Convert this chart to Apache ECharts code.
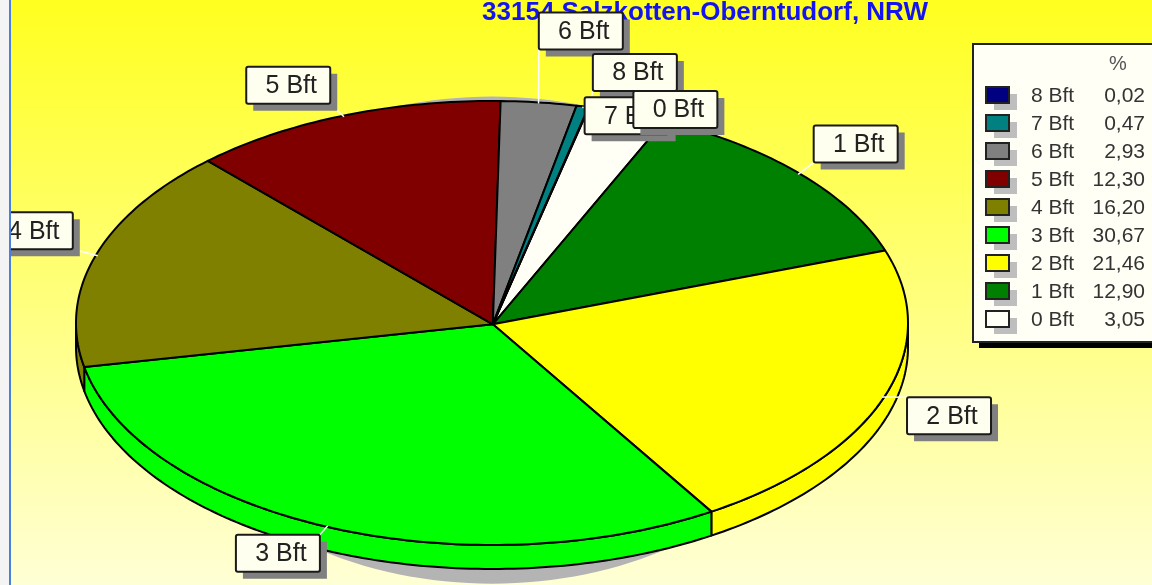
<!DOCTYPE html>
<html><head><meta charset="utf-8">
<script src="https://cdn.jsdelivr.net/npm/echarts@6/dist/echarts.min.js"></script>
<style>html,body{margin:0;padding:0;background:#fff}#c{width:1152px;height:585px}</style>
</head><body><div id="c"></div>
<script>
// Data, clockwise from the first slice
const categories = ['0 Bft','1 Bft','2 Bft','3 Bft','4 Bft','5 Bft','6 Bft','7 Bft','8 Bft'];
const values = [3.05,12.90,21.46,30.67,16.20,12.30,2.93,0.47,0.02];
const colors = ['#FFFFF6','#008000','#FFFF00','#00FF00','#808000','#800000','#808080','#008080','#000080'];
const titleText = '33154 Salzkotten-Oberntudorf, NRW';
const legendHeader = '%';

// Layout (not data)
const firstAngle = 13.5;           // clockwise from 12 o'clock
const wallDepth = 0.108;           // in y-axis units
const labelOffsets = [[6,-22],[14,-48],[23,0],[-91,8],[-107,-43],[-97,-49],[0,-90],[2,-9],[4,-53]];
const labelOrder = [9,1,2,3,4,5,6,7,6];
const boxW = 84, boxH = 37;

const total = values.reduce((a,b)=>a+b,0);
const starts = []; { let c = firstAngle; values.forEach(v=>{starts.push(c); c += v/total*360;}); }
const pt = (deg,r,dy)=>{const t=deg*Math.PI/180; return [r*Math.sin(t), r*Math.cos(t)-(dy||0)];};
function arc(a,b,dy){const out=[];const n=Math.max(1,Math.ceil((b-a)/1));for(let i=0;i<=n;i++)out.push(pt(a+(b-a)*i/n,1,dy));return out;}

const slice = i => [starts[i], starts[i]+values[i]/total*360];

const shadowSeries = {
  type:'custom', coordinateSystem:'cartesian2d', z:2, silent:true, data:[[0,0]],
  renderItem:(p,api)=>{
    const pts=[];for(let d=0;d<360;d+=2){const t=d*Math.PI/180;pts.push(api.coord([0.817*Math.sin(t),-0.077+1.097*Math.cos(t)]));}
    return {type:'polygon',shape:{points:pts},style:{fill:'#B4B4B4'}};
  }
};
const wallSeries = {
  type:'custom', coordinateSystem:'cartesian2d', z:3, silent:true,
  data:values.map((v,i)=>[i,v]),
  renderItem:(p,api)=>{
    const i=p.dataIndex; let [a,b]=slice(i);
    const segs=[[a,b],[a-360,b-360],[a+360,b+360]].map(([x,y])=>[Math.max(x,90),Math.min(y,270)]).filter(([x,y])=>y>x);
    if(!segs.length) return null;
    const [s,e]=segs[0];
    const top=arc(s,e,0), low=arc(s,e,wallDepth).reverse();
    return {type:'polygon',shape:{points:top.concat(low).map(q=>api.coord(q))},
      style:{fill:colors[i],stroke:'#000',lineWidth:2,lineJoin:'round'}};
  }
};
const topSeries = {
  type:'custom', coordinateSystem:'cartesian2d', z:4, silent:true,
  data:values.map((v,i)=>[i,v]),
  renderItem:(p,api)=>{
    const i=p.dataIndex; const [a,b]=slice(i);
    const pts=[[0.002,-0.006]].concat(arc(a,b,0)).map(q=>api.coord(q));
    return {type:'polygon',shape:{points:pts},style:{fill:colors[i],stroke:'#000',lineWidth:2,lineJoin:'round'}};
  }
};
const labelSeries = {
  type:'custom', coordinateSystem:'cartesian2d', z:5, silent:true,
  data:values.map((v,i)=>[i,v]),
  renderItem:(p,api)=>{
    const i=p.dataIndex; const [a,b]=slice(i);
    const anchor=api.coord(pt((a+b)/2,1,0));
    const inner=api.coord(pt((a+b)/2,0.995,0));
    const x=anchor[0]+labelOffsets[i][0], y=anchor[1]+labelOffsets[i][1];
    const cx=Math.min(Math.max(inner[0],x),x+boxW), cy=Math.min(Math.max(inner[1],y),y+boxH);
    const z=labelOrder[i]*3;
    return {type:'group',children:[
      {type:'line',z2:1,shape:{x1:inner[0],y1:inner[1],x2:cx,y2:cy},style:{stroke:'#FFFFFF',lineWidth:1.5}},
      {type:'rect',z2:z+2,shape:{x:x+7,y:y+7,width:boxW,height:boxH},style:{fill:'#808080'}},
      {type:'rect',z2:z+3,shape:{x:x,y:y,width:boxW,height:boxH,r:2},style:{fill:'#FFFFEF',stroke:'#1a1a1a',lineWidth:2}},
      {type:'text',z2:z+4,style:{x:x+boxW/2+3,y:y+boxH/2+1,text:categories[i],align:'center',verticalAlign:'middle',
        font:'25px "Liberation Sans", Arial, sans-serif',fill:'#222'}}
    ]};
  }
};

// Legend panel, listed from the highest class down
const legendEls=[
  {type:'rect',z:50,shape:{x:979,y:50,width:180,height:298},style:{fill:'#000'}},
  {type:'rect',z:51,shape:{x:973,y:44,width:186,height:298},style:{fill:'#FFFFF6',stroke:'#222',lineWidth:2}},
  {type:'text',z:52,style:{x:1118,y:64,text:legendHeader,align:'center',verticalAlign:'middle',font:'20px "Liberation Sans", Arial, sans-serif',fill:'#555'}}
];
categories.slice().reverse().forEach((name,r)=>{
  const i=categories.length-1-r, y=87+r*28;
  legendEls.push(
    {type:'rect',z:51,shape:{x:994,y:y+7,width:23,height:16},style:{fill:'#BEBEBE'}},
    {type:'rect',z:52,shape:{x:986,y:y,width:23,height:16},style:{fill:colors[i],stroke:'#222',lineWidth:2}},
    {type:'text',z:52,style:{x:1031,y:y+9,text:name,align:'left',verticalAlign:'middle',font:'21px "Liberation Sans", Arial, sans-serif',fill:'#333'}},
    {type:'text',z:52,style:{x:1145,y:y+9,text:values[i].toFixed(2).replace('.',','),align:'right',verticalAlign:'middle',font:'21px "Liberation Sans", Arial, sans-serif',fill:'#333'}}
  );
});

const chart=echarts.init(document.getElementById('c'),null,{renderer:'canvas'});
chart.setOption({
  animation:false,
  backgroundColor:{type:'linear',x:0,y:0,x2:0,y2:1,colorStops:[{offset:0,color:'#FFFF20'},{offset:1,color:'#FFFFD6'}]},
  title:{text:titleText,left:700,top:-5,textAlign:'center',z:1,
    textStyle:{color:'#1414F0',fontSize:26,fontWeight:'bold',fontFamily:'"Liberation Sans", Arial, sans-serif'}},
  grid:{left:76,width:832,top:101,height:444,show:false},
  xAxis:{type:'value',min:-1,max:1,show:false},
  yAxis:{type:'value',min:-1,max:1,show:false},
  tooltip:{show:false},
  series:[shadowSeries,wallSeries,topSeries,labelSeries],
  graphic:{elements:[
    {type:'rect',z:100,shape:{x:0,y:0,width:9,height:585},style:{fill:'#F4F4F4'}},
    {type:'rect',z:100,shape:{x:9,y:0,width:2,height:585},style:{fill:'#4A80D8'}}
  ].concat(legendEls)}
});
</script></body></html>
